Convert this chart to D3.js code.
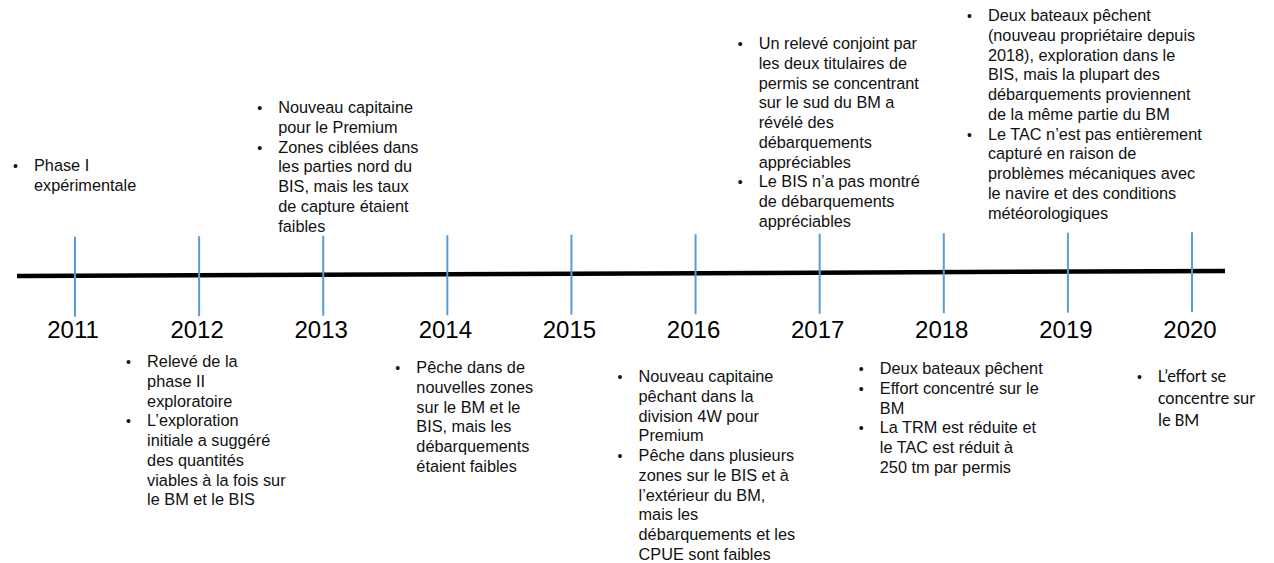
<!DOCTYPE html>
<html>
<head>
<meta charset="utf-8">
<script src="https://cdn.jsdelivr.net/npm/d3@7"></script>
<style>
  html, body { margin: 0; padding: 0; background: #fff; }
  svg { display: block; }
</style>
</head>
<body>
<script>
// data
var years = [2011, 2012, 2013, 2014, 2015, 2016, 2017, 2018, 2019, 2020];
var noteYears = [2011, 2012, 2013, 2014, 2016, 2017, 2018, 2019, 2020];
var noteBullets = [
    [["Phase I", "expérimentale"]],
    [["Relevé de la", "phase II", "exploratoire"],
     ["L’exploration", "initiale a suggéré", "des quantités", "viables à la fois sur", "le BM et le BIS"]],
    [["Nouveau capitaine", "pour le Premium"],
     ["Zones ciblées dans", "les parties nord du", "BIS, mais les taux", "de capture étaient", "faibles"]],
    [["Pêche dans de", "nouvelles zones", "sur le BM et le", "BIS, mais les", "débarquements", "étaient faibles"]],
    [["Nouveau capitaine", "pêchant dans la", "division 4W pour", "Premium"],
     ["Pêche dans plusieurs", "zones sur le BIS et à", "l’extérieur du BM,", "mais les", "débarquements et les", "CPUE sont faibles"]],
    [["Un relevé conjoint par", "les deux titulaires de", "permis se concentrant", "sur le sud du BM a", "révélé des", "débarquements", "appréciables"],
     ["Le BIS n’a pas montré", "de débarquements", "appréciables"]],
    [["Deux bateaux pêchent"], ["Effort concentré sur le", "BM"],
     ["La TRM est réduite et", "le TAC est réduit à", "250 tm par permis"]],
    [["Deux bateaux pêchent", "(nouveau propriétaire depuis", "2018), exploration dans le", "BIS, mais la plupart des", "débarquements proviennent", "de la même partie du BM"],
     ["Le TAC n’est pas entièrement", "capturé en raison de", "problèmes mécaniques avec", "le navire et des conditions", "météorologiques"]],
    [["L’effort se", "concentre sur", "le BM"]]
];

// layout of the text boxes (offset from the year tick, first baseline)
var noteLayout = {
    2011: { dx: -41, top: 171 },
    2012: { dx: -52, top: 367 },
    2013: { dx: -45, top: 113 },
    2014: { dx: -31, top: 373 },
    2016: { dx: -57, top: 382 },
    2017: { dx: -61, top: 49 },
    2018: { dx: -64, top: 374 },
    2019: { dx: -80, top: 21 },
    2020: { dx: -34, top: 382, big: true }
};

var svgWidth = 1274;
var svgHeight = 563;
var mainFont = "'Liberation Sans', Arial, sans-serif";

var svg = d3.select("body")
    .append("svg")
    .attr("width", svgWidth)
    .attr("height", svgHeight);

var x = d3.scaleLinear()
    .domain([2011, 2020])
    .range([75, 1192]);

// the black line is drawn slightly tilted, as in the slide
var lineX0 = 17, lineX1 = 1225;
var lineY = d3.scaleLinear().domain([lineX0, lineX1]).range([276, 271]);

svg.append("line")
    .attr("x1", lineX0)
    .attr("y1", lineY(lineX0))
    .attr("x2", lineX1)
    .attr("y2", lineY(lineX1))
    .attr("stroke", "#000")
    .attr("stroke-width", 4.5);

svg.selectAll("line.tick")
    .data(years)
    .enter()
    .append("line")
    .attr("class", "tick")
    .attr("x1", function (d) { return x(d); })
    .attr("x2", function (d) { return x(d); })
    .attr("y1", function (d) { return lineY(x(d)) - 39; })
    .attr("y2", function (d) { return lineY(x(d)) + 41; })
    .attr("stroke", "#5b9bd5")
    .attr("stroke-width", 2);

svg.selectAll("text.year")
    .data(years)
    .enter()
    .append("text")
    .attr("class", "year")
    .attr("x", function (d) { return x(d) - 2; })
    .attr("y", 338)
    .attr("text-anchor", "middle")
    .attr("font-family", mainFont)
    .attr("font-size", 24)
    .attr("fill", "#000")
    .text(function (d) { return d; });

// bullet notes
noteYears.forEach(function (yr, i) {
    var lay = noteLayout[yr];
    var left = x(yr) + lay.dx;
    var lh = lay.big ? 22 : 19.75;
    var font = lay.big ? "Carlito, Calibri, Lato, sans-serif" : mainFont;
    var size = lay.big ? 17.5 : 16.3;
    var g = svg.append("g")
        .attr("font-family", font)
        .attr("font-size", size)
        .attr("fill", "#111");
    var row = 0;
    noteBullets[i].forEach(function (bullet) {
        g.append("text")
            .attr("x", left - 21)
            .attr("y", lay.top + row * lh)
            .attr("font-family", mainFont)
            .attr("font-size", 14)
            .text("•");
        bullet.forEach(function (line) {
            g.append("text")
                .attr("x", left)
                .attr("y", lay.top + row * lh)
                .text(line);
            row++;
        });
    });
});
</script>
</body>
</html>
